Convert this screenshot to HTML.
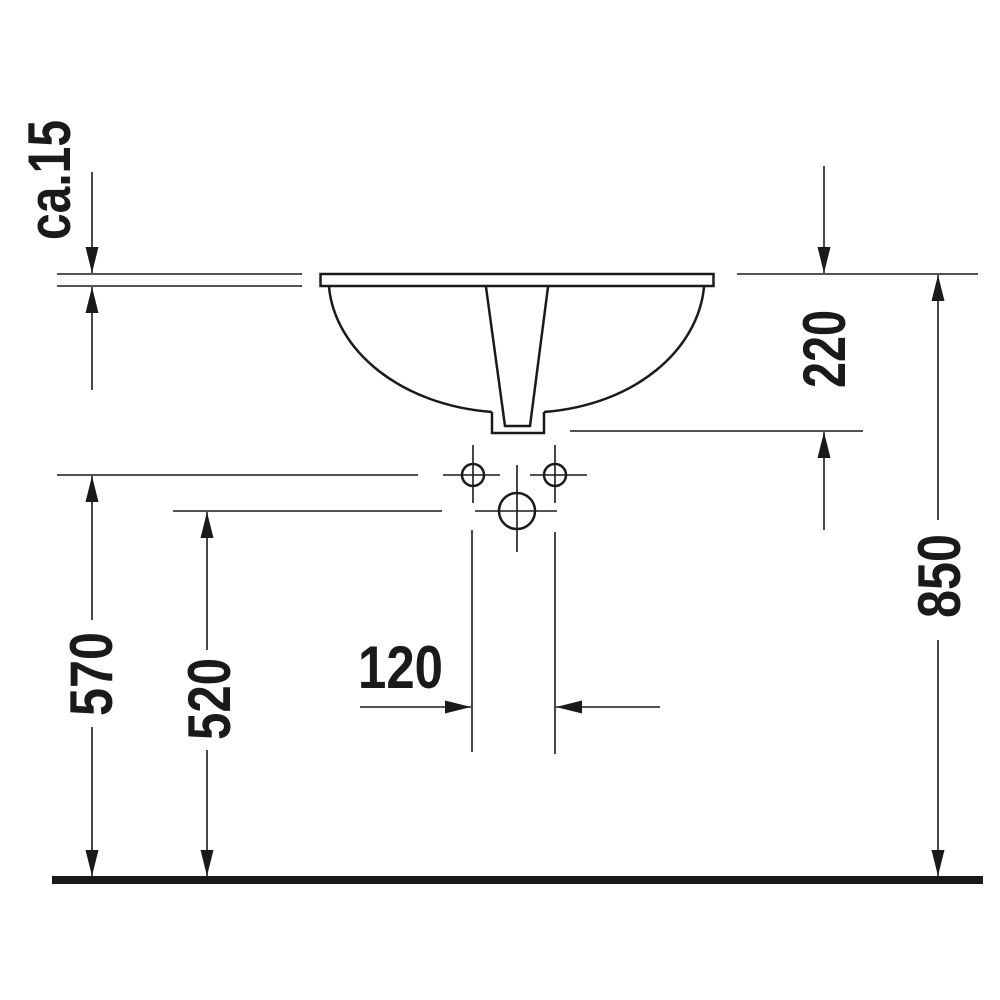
<!DOCTYPE html>
<html><head><style>html,body{margin:0;padding:0;background:#fff}svg{display:block}</style></head>
<body>
<svg width="1000" height="1000" viewBox="0 0 1000 1000" xmlns="http://www.w3.org/2000/svg">
<defs>
<marker id="a" viewBox="0 0 26 13" refX="26" refY="6.5" markerWidth="26" markerHeight="13" markerUnits="userSpaceOnUse" orient="auto"><path d="M0,0L26,6.5L0,13z" fill="#1a1a1a"/></marker>
</defs>
<g stroke="#1a1a1a" stroke-width="1.6" fill="none">
<rect x="320.5" y="274" width="393" height="12" stroke-width="2.5"/>
<path d="M329,287 C335,350 400,405 492,412" stroke-width="2.5"/>
<path d="M704,287 C698,350 635,405 544,412" stroke-width="2.5"/>
<path d="M492,412 V433 H544 V412" stroke-width="2.5"/>
<path d="M486,287 L505,426 H530 L548,287" stroke-width="2.5"/>
<circle cx="473" cy="475" r="11" stroke-width="2.5"/>
<circle cx="555" cy="475" r="11" stroke-width="2.5"/>
<circle cx="517" cy="511" r="18" stroke-width="2.5"/>
<path d="M443,475H500M473,445V503M530,475H587M555,445V503M475,511H557M517,465V552"/>
<path d="M57,274H302M57,286H302M737,274H978M570,431H863M57,475H418M173,511H442M472,530V752M555,532V754"/>
<line x1="92" y1="172" x2="92" y2="273" marker-end="url(#a)"/>
<line x1="92" y1="390" x2="92" y2="287" marker-end="url(#a)"/>
<line x1="824" y1="166" x2="824" y2="273" marker-end="url(#a)"/>
<line x1="824" y1="530" x2="824" y2="432" marker-end="url(#a)"/>
<line x1="938" y1="520" x2="938" y2="275" marker-end="url(#a)"/>
<line x1="938" y1="640" x2="938" y2="876" marker-end="url(#a)"/>
<line x1="92" y1="620" x2="92" y2="476" marker-end="url(#a)"/>
<line x1="92" y1="727" x2="92" y2="876" marker-end="url(#a)"/>
<line x1="207" y1="650" x2="207" y2="512" marker-end="url(#a)"/>
<line x1="207" y1="750" x2="207" y2="876" marker-end="url(#a)"/>
<line x1="360" y1="707" x2="471" y2="707" marker-end="url(#a)"/>
<line x1="660" y1="707" x2="556" y2="707" marker-end="url(#a)"/>
</g>
<rect x="52" y="876" width="931" height="8" fill="#1a1a1a"/>
<g font-family="Liberation Sans, sans-serif" font-weight="bold" font-size="60" fill="#1a1a1a">
<text x="358" y="688" textLength="85" lengthAdjust="spacingAndGlyphs">120</text>
<text transform="translate(112,674) rotate(-90)" x="-42" y="0" textLength="84" lengthAdjust="spacingAndGlyphs">570</text>
<text transform="translate(230,699) rotate(-90)" x="-41" y="0" textLength="82" lengthAdjust="spacingAndGlyphs">520</text>
<text transform="translate(960,576) rotate(-90)" x="-42" y="0" textLength="84" lengthAdjust="spacingAndGlyphs">850</text>
<text transform="translate(845,349) rotate(-90)" x="-39" y="0" textLength="78" lengthAdjust="spacingAndGlyphs">220</text>
<text transform="translate(70,180) rotate(-90)" x="-60" y="0" textLength="120" lengthAdjust="spacingAndGlyphs">ca.15</text>
</g>
</svg>
</body></html>
